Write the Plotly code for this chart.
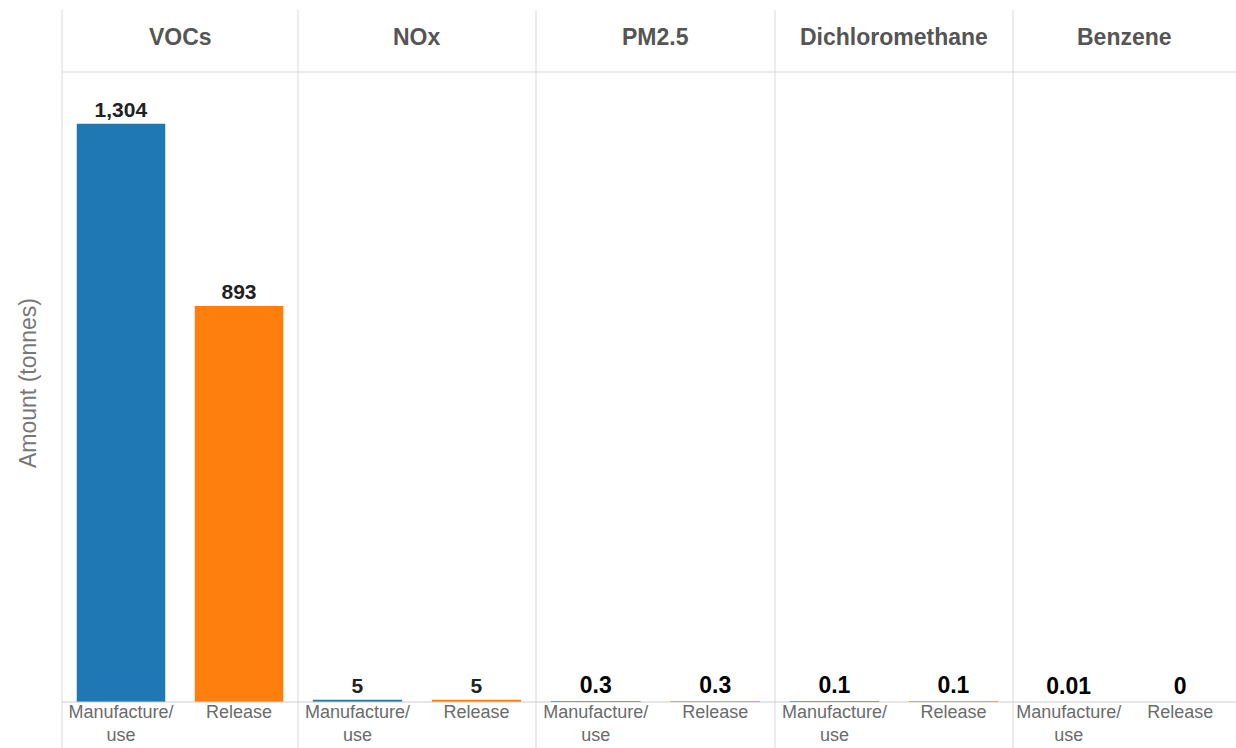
import plotly.graph_objects as go

# Emissions by pollutant and activity (tonnes)
pollutants = ["VOCs", "NOx", "PM2.5", "Dichloromethane", "Benzene"]
activities = ["Manufacture/<br>use", "Release"]
manufacture_use = [1304, 5, 0.3, 0.1, 0.01]
release = [893, 5, 0.3, 0.1, 0]

BLUE = "#1f77b4"
ORANGE = "#ff7f0e"
FONT = "Liberation Sans, Arial, sans-serif"

W, H = 1236, 748
ML, MR, MT, MB = 62, 0, 72, 46
PW = W - ML - MR
PH = H - MT - MB

# panel edges in pixels from the left of the plot area
edges = [0, 236, 474, 713, 951, PW]


def fmt(v):
    return f"{v:,.0f}" if v >= 1 else f"{v:g}"


fig = go.Figure()
for i, name in enumerate(pollutants):
    vals = [manufacture_use[i], release[i]]
    big = vals[0] >= 1
    ax = "x" if i == 0 else f"x{i + 1}"
    fig.add_trace(go.Bar(
        x=activities,
        y=vals,
        xaxis=ax,
        yaxis="y",
        marker=dict(color=[BLUE, ORANGE], line=dict(width=0)),
        text=[fmt(v) for v in vals],
        textposition="outside",
        cliponaxis=False,
        textfont=dict(
            family=FONT,
            size=21 if big else 23,
            color="#222222" if big else "#000000",
            weight="bold",
        ),
        showlegend=False,
        hoverinfo="skip",
    ))

layout_axes = {}
for i in range(len(pollutants)):
    key = "xaxis" if i == 0 else f"xaxis{i + 1}"
    layout_axes[key] = dict(
        domain=[edges[i] / PW, edges[i + 1] / PW],
        anchor="y",
        type="category",
        showgrid=False,
        zeroline=False,
        showline=False,
        ticks="",
        automargin=False,
        ticklabelstandoff=-3,
        tickfont=dict(family=FONT, size=18, color="#6b6b6b"),
        fixedrange=True,
    )

fig.update_layout(
    width=W, height=H,
    margin=dict(l=ML, r=MR, t=MT, b=MB, pad=0, autoexpand=False),
    paper_bgcolor="white",
    plot_bgcolor="white",
    bargap=0.25,
    yaxis=dict(range=[0, 1421], showgrid=False, zeroline=False, showline=False,
               showticklabels=False, ticks="", automargin=False, fixedrange=True),
    **layout_axes,
)

# panel separators, header rule and baseline
sep_color = "#d9d9d9"
y_top = 1 + (MT - 10) / PH
y_bot = -MB / PH
for e in edges[:-1]:
    fig.add_shape(type="line", xref="paper", yref="paper",
                  x0=e / PW, x1=e / PW, y0=y_bot, y1=y_top,
                  line=dict(color=sep_color, width=1))
fig.add_shape(type="line", xref="paper", yref="paper", x0=0, x1=1, y0=1, y1=1,
              line=dict(color=sep_color, width=1))
fig.add_shape(type="line", xref="paper", yref="paper", x0=0, x1=1, y0=0, y1=0,
              line=dict(color="#cccccc", width=1))

# facet headers
for i, name in enumerate(pollutants):
    fig.add_annotation(
        x=(edges[i] + edges[i + 1]) / 2 / PW, y=1 + (MT - 37) / PH,
        xref="paper", yref="paper", text=f"<b>{name}</b>", showarrow=False,
        xanchor="center", yanchor="middle",
        font=dict(family=FONT, size=23, color="#555555"),
    )

# y-axis title
fig.add_annotation(
    x=-34 / PW, y=(702 - 383) / PH, xref="paper", yref="paper", text="Amount (tonnes)",
    showarrow=False, textangle=-90, xanchor="center", yanchor="middle",
    font=dict(family=FONT, size=23, color="#777777"),
)

fig.write_html("out.html")
